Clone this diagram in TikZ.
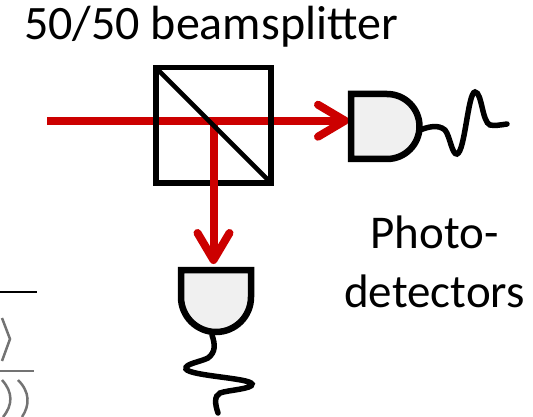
\documentclass[tikz,border=0pt]{standalone}
\usepackage{fontspec}
\setmainfont{Carlito}
\usetikzlibrary{arrows.meta,positioning}
\definecolor{beamred}{RGB}{204,0,0}
\definecolor{detgray}{RGB}{240,240,240}
\begin{document}
\begin{tikzpicture}[
    x=1pt, y=-1pt,
    txt/.style={inner sep=0pt, align=center, font=\fontsize{47}{59}\selectfont},
    cube/.style={draw, line width=5.8pt, minimum width=115.5pt, minimum height=115.5pt, inner sep=0pt},
    beam/.style={draw=beamred, line width=8pt, -{Straight Barb[length=27pt,width=32pt,line width=8pt,round]}},
    det/.style={draw, line width=6.5pt, fill=detgray},
    wire/.style={draw, line width=5.5pt, line cap=round},
    frag/.style={draw=black!55, line width=2.5pt}
]
\useasboundingbox (0,0) rectangle (533,417);

% title
\node[txt, font=\fontsize{48}{58}\selectfont] (title) at (211,27) {50/50 beamsplitter};

% beams
\coordinate (in) at (47,120.7);
\coordinate (split) at (213.5,120.7);
\coordinate (d1) at (349,120.7);
\coordinate (d2) at (213.5,264);
\draw[beam] (in) -- (d1);

% beamsplitter
\node[cube] (bs) at (213.4,125.3) {};
\draw[beam] (split) -- (d2);
\draw[line width=4.5pt, shorten <=3pt, shorten >=3pt] (bs.north west) -- (bs.south east);

% detectors
\draw[det] (351,94) -- (387,94) arc[start angle=-90, end angle=90, radius=32.5] -- (351,159) -- cycle;
\coordinate (d1out) at (420,130);
\draw[det] (181,270) -- (251,270) -- (251,297) arc[start angle=0, end angle=180, radius=35] -- cycle;
\coordinate (d2out) at (212,335);

% signals
\draw[wire] (d1out) .. controls (428,127) and (438,124) .. (445,130)
    .. controls (450,136) and (452,155) .. (457,154)
    .. controls (465,152) and (468,92) .. (475,92)
    .. controls (482,92) and (482,122) .. (490,125)
    .. controls (495,126) and (500,125) .. (507,124);
\draw[wire] (d2out) .. controls (215,344) and (216,352) .. (208,358)
    .. controls (200,362) and (184,364) .. (186,369)
    .. controls (190,376) and (250,378) .. (252,384)
    .. controls (253,389) and (228,390) .. (220,393)
    .. controls (214,396) and (215,404) .. (218,413);

% labels
\node[txt] (lab) at (434.5,262) {Photo-\\detectors};

% cropped fragment, lower left
\draw[line width=2.5pt] (0,292) -- (37,292);
\draw[frag] (2,318) -- (10,339) -- (2,361);
\draw[frag] (0,371) -- (34,371);
\draw[frag] (2,380) .. controls (13,392) and (13,405) .. (3,417);
\draw[frag] (18,380) .. controls (30,392) and (30,405) .. (22,417);
\end{tikzpicture}
\end{document}
